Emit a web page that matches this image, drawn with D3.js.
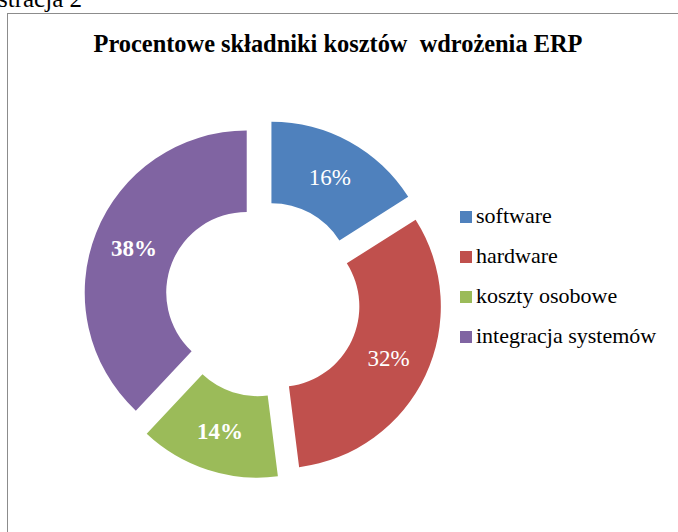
<!DOCTYPE html>
<html>
<head>
<meta charset="utf-8">
<script src="https://cdn.jsdelivr.net/npm/d3@7"></script>
<style>
    body { margin: 0; background: #fff; }
    text { font-family: "Liberation Serif", "Times New Roman", serif; }
</style>
</head>
<body>
<div id="pie_svg"></div>
<script>
var categories = ["software", "hardware", "koszty osobowe", "integracja systemów"];
var values = [16, 32, 14, 38];
var boldLabel = [false, false, true, true];
var colors = ["#4F81BD", "#C0504D", "#9BBB59", "#8064A2"];

var width = 678, height = 532;

var svg = d3.select("#pie_svg").append("svg")
    .attr("width", width)
    .attr("height", height);

// caption above the chart frame (cut off at the top of the page)
svg.append("text")
    .attr("x", 82)
    .attr("y", 7)
    .attr("text-anchor", "end")
    .style("font-size", "25px")
    .text("Ilustracja 2");

// chart frame
svg.append("rect")
    .attr("x", 7.5)
    .attr("y", 13.5)
    .attr("width", 700)
    .attr("height", 540)
    .style("fill", "none")
    .style("stroke", "#8c8c8c");

svg.append("text")
    .attr("x", 338)
    .attr("y", 52)
    .attr("text-anchor", "middle")
    .style("font-size", "24.4px")
    .style("font-weight", "bold")
    .style("white-space", "pre")
    .text("Procentowe składniki kosztów  wdrożenia ERP");

// donut
var cx = 263, cy = 299, outerR = 162, innerR = 80.5, explode = 17.5;

var pie = d3.pie().sort(null).value(function (d) { return d; });
var arc = d3.arc().innerRadius(innerR).outerRadius(outerR);
var total = d3.sum(values);

var g = svg.append("g")
    .attr("transform", "translate(" + cx + "," + cy + ")");

var slices = g.selectAll(".slice")
    .data(pie(values))
    .enter().append("g")
    .attr("class", "slice")
    .attr("transform", function (d) {
        var a = (d.startAngle + d.endAngle) / 2;
        return "translate(" + (explode * Math.sin(a)) + "," + (-explode * Math.cos(a)) + ")";
    });

slices.append("path")
    .attr("d", arc)
    .style("fill", function (d, i) { return colors[i]; });

slices.append("text")
    .attr("transform", function (d) { return "translate(" + arc.centroid(d) + ")"; })
    .attr("dy", "0.35em")
    .attr("text-anchor", "middle")
    .style("fill", "#fff")
    .style("font-size", "23px")
    .style("font-weight", function (d, i) { return boldLabel[i] ? "bold" : "normal"; })
    .text(function (d) { return Math.round(d.value / total * 100) + "%"; });

// legend
var legend = svg.append("g")
    .attr("transform", "translate(460,211)");

var items = legend.selectAll(".item")
    .data(categories)
    .enter().append("g")
    .attr("class", "item")
    .attr("transform", function (d, i) { return "translate(0," + (i * 40) + ")"; });

items.append("rect")
    .attr("width", 12)
    .attr("height", 12)
    .style("fill", function (d, i) { return colors[i]; });

items.append("text")
    .attr("x", 16)
    .attr("y", 12)
    .style("font-size", "22px")
    .text(function (d) { return d; });
</script>
</body>
</html>
